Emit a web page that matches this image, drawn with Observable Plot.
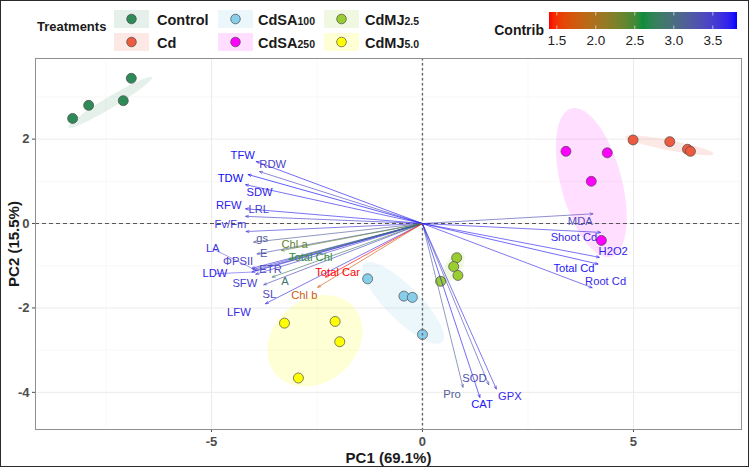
<!DOCTYPE html>
<html><head><meta charset="utf-8">
<script src="https://cdn.jsdelivr.net/npm/d3@7"></script>
<script src="https://cdn.jsdelivr.net/npm/@observablehq/plot@0.6"></script>
<style>
body{margin:0;background:#fff;font-family:"Liberation Sans",Arial,sans-serif;}
#wrap{position:relative;width:749px;height:467px;overflow:hidden;background:#fff;}
#legend,#chart{display:block;line-height:0;}
#frame{position:absolute;left:0;top:0;width:749px;height:467px;box-sizing:border-box;border:1.5px solid #2a2a2a;pointer-events:none;}
#chart g[aria-label^="x-axis"] text,#chart g[aria-label^="y-axis"] text{font-weight:bold;font-size:13px;fill:#4d4d4d;}
#chart g[aria-label^="x-axis"],#chart g[aria-label^="y-axis"]{color:#4d4d4d;}
</style></head><body>
<div id="wrap"><div id="legend"></div><div id="chart"></div><div id="frame"></div></div>
<script>
// ---- Treatments ----
const groups = ["Control","Cd","CdSA100","CdSA250","CdMJ2.5","CdMJ5.0"];
const groupMain = ["Control","Cd","CdSA","CdSA","CdMJ","CdMJ"];
const groupSub = ["","","100","250","2.5","5.0"];
const groupColors = ["#2e8b57","#ec5b3f","#87ceeb","#ff00ff","#9acd32","#ffff00"];

// ---- Individual scores (PC1, PC2) ----
const scoreGroup = ["Control","Control","Control","Control","Cd","Cd","Cd","Cd",
  "CdSA100","CdSA100","CdSA100","CdSA100","CdSA250","CdSA250","CdSA250","CdSA250",
  "CdMJ2.5","CdMJ2.5","CdMJ2.5","CdMJ2.5","CdMJ5.0","CdMJ5.0","CdMJ5.0","CdMJ5.0"];
const scorePC1 = [-8.29,-7.91,-7.09,-6.90, 4.99,5.86,6.28,6.35, -1.30,-0.44,-0.24,0.00, 3.40,4.38,4.00,4.24, 0.81,0.74,0.84,0.43, -3.27,-2.07,-1.96,-2.94];
const scorePC2 = [2.49,2.80,2.91,3.44, 1.98,1.94,1.76,1.71, -1.31,-1.72,-1.75,-2.63, 1.71,1.675,1.00,-0.40, -0.81,-1.02,-1.23,-1.37, -2.36,-2.32,-2.80,-3.66];

// ---- Group ellipses: centre, semi-axes, angle (deg) ----
const ellCX = [-7.40, 5.85, -0.46, 4.00, 0.74, -2.55];
const ellCY = [2.87, 1.855, -1.88, 0.97, -1.02, -2.78];
const ellA  = [1.15, 1.07, 1.31, 1.82, 0.40, 1.22];
const ellB  = [0.13, 0.12, 0.40, 0.72, 0.19, 0.98];
const ellAngle = [31, -11, -45, 105, 60, 40];

// ---- Variables ----
const varNames = ["TFW","RDW","TDW","SDW","RFW","LRL","Fv/Fm","gs","E","LA","ΦPSII","ETR","LDW","SFW","SL","LFW",
  "A","Chl a","Total Chl","Total Car","Chl b","MDA","Shoot Cd","H2O2","Total Cd","Root Cd","Pro","SOD","CAT","GPX"];
const varPC1 = [-3.94,-3.86,-4.13,-4.19,-4.19,-4.19,-4.18,-4.00,-3.92,-4.04,-4.02,-3.97,-4.04,-3.95,-3.76,-3.72,
  -3.56,-3.34,-3.17,-2.30,-2.48, 4.04,4.22,4.19,4.16,4.02, 0.96,1.57,1.36,1.75];
const varPC2 = [1.47,1.23,1.16,0.92,0.35,0.17,-0.19,-0.44,-0.72,-1.06,-1.09,-1.11,-1.15,-1.20,-1.45,-1.90,
  -1.27,-0.64,-0.85,-1.27,-1.51, 0.23,-0.21,-0.80,-0.96,-1.52, -3.88,-3.82,-4.12,-3.92];
const varContrib = [3.75,3.45,3.80,3.70,3.70,3.50,3.55,3.20,3.30,3.60,3.45,3.40,3.70,3.50,3.40,3.65,
  2.85,2.40,2.55,1.40,1.75, 3.35,3.65,3.70,3.75,3.65, 3.15,3.35,3.75,3.65];
const labelPC1 = [-4.26,-3.55,-4.55,-3.86,-4.59,-3.88,-4.55,-3.80,-3.76,-4.97,-4.37,-3.60,-4.92,-4.21,-3.63,-4.35,
  -3.26,-3.03,-2.65,-2.01,-2.80, 3.74,3.59,4.52,3.59,4.34, 0.70,1.23,1.41,2.07];
const labelPC2 = [1.62,1.40,1.08,0.74,0.43,0.33,-0.03,-0.35,-0.70,-0.60,-0.90,-1.09,-1.19,-1.41,-1.68,-2.10,
  -1.37,-0.50,-0.80,-1.15,-1.71, 0.05,-0.32,-0.66,-1.06,-1.37, -4.05,-3.67,-4.29,-4.10];
const repelSegment = ["LA","LDW"];

// ---- Axis ticks & colour bar ----
const xTicks = [-5,0,5];
const yTicks = [-4,-2,0,2];
const xMinor = [-7.5,-2.5,2.5,7.5];
const yMinor = [-3,-1,1,3];
const contribDomain = [1.4, 2.6, 3.81];
const contribColors = ["#ff0000","#078d3c","#0000ff"];
const contribTicks = [1.5,2.0,2.5,3.0,3.5];

const FONT = '"Liberation Sans", Arial, sans-serif';
const colorOpts = {type:"linear", domain: contribDomain, range: contribColors, interpolate:"lab"};
const cscale = Plot.scale({color: colorOpts});

const scores = scoreGroup.map((g,i)=>({group:g, x:scorePC1[i], y:scorePC2[i]}));
const vars = varNames.map((n,i)=>({name:n, x:varPC1[i], y:varPC2[i], c:varContrib[i], lx:labelPC1[i], ly:labelPC2[i]}));
function ellipsePts(k){
  const th = ellAngle[k]*Math.PI/180, pts=[];
  for(let j=0;j<120;j++){
    const t = j/120*2*Math.PI;
    pts.push({x: ellCX[k] + ellA[k]*Math.cos(t)*Math.cos(th) - ellB[k]*Math.sin(t)*Math.sin(th),
              y: ellCY[k] + ellA[k]*Math.cos(t)*Math.sin(th) + ellB[k]*Math.sin(t)*Math.cos(th)});
  }
  return pts;
}
const ellOpacity = [0.13,0.14,0.16,0.13,0.14,0.16];
const fmt = d => String(d);

const marks = [
  Plot.gridX(xMinor, {stroke:"#f3f3f3", strokeOpacity:1, strokeWidth:0.6}),
  Plot.gridY(yMinor, {stroke:"#f3f3f3", strokeOpacity:1, strokeWidth:0.6}),
  Plot.gridX(xTicks, {stroke:"#ebebeb", strokeOpacity:1, strokeWidth:1}),
  Plot.gridY(yTicks, {stroke:"#ebebeb", strokeOpacity:1, strokeWidth:1}),
  ...groups.map((g,k)=>Plot.line(ellipsePts(k), {x:"x", y:"y", curve:"linear-closed", fill:groupColors[k], fillOpacity:ellOpacity[k], stroke:"none"})),
  ...groups.map((g,k)=>Plot.dot(scores.filter(d=>d.group===g), {x:"x", y:"y", r:5, fill:groupColors[k], stroke:"#4a4a4a", strokeWidth:0.7})),
  Plot.ruleX([0], {stroke:"#666", strokeDasharray:"2.5,2.5", strokeWidth:1.4}),
  Plot.ruleY([0], {stroke:"#555", strokeDasharray:"4,3", strokeWidth:1}),
  Plot.link(vars.filter(d=>repelSegment.includes(d.name)), {x1:"lx", y1:"ly", x2:"x", y2:"y", stroke:"c", strokeWidth:0.6, strokeOpacity:0.8}),
  Plot.arrow(vars, {x1:()=>0, y1:()=>0, x2:"x", y2:"y", stroke:"c", strokeWidth:0.75, strokeOpacity:0.85, headLength:6, headAngle:45}),
  Plot.text(vars, {x:"lx", y:"ly", text:"name", fill:"c", fontSize:11.2, fontFamily:FONT}),
  Plot.frame({stroke:"#8f8f8f", strokeWidth:1}),
  Plot.text(["PC1 (69.1%)"], {frameAnchor:"bottom", dy:33, fontSize:15, fontWeight:"bold", fill:"#1a1a1a", fontFamily:FONT}),
  Plot.text(["PC2 (15.5%)"], {frameAnchor:"left", dx:-21, rotate:-90, textAnchor:"middle", fontSize:15, fontWeight:"bold", fill:"#1a1a1a", fontFamily:FONT})
];

const chart = Plot.plot({
  width:749, height:411,
  marginTop:2, marginBottom:38, marginLeft:35, marginRight:8,
  style:{fontFamily:FONT, background:"transparent", overflow:"visible"},
  x:{domain:[-9.17,7.56], ticks:xTicks, tickFormat:fmt, label:null, tickSize:3, tickPadding:4},
  y:{domain:[-4.88,3.91], ticks:yTicks, tickFormat:fmt, label:null, tickSize:3, tickPadding:3},
  color: colorOpts,
  marks
});
document.getElementById("chart").appendChild(chart);

// ---- Legend (above the plot) ----
const L = d3.select("#legend").append("svg").attr("width",749).attr("height",56).style("display","block").style("font-family",FONT);
L.append("text").attr("x",37).attr("y",26).attr("dy","0.35em").attr("font-size",13).attr("font-weight","bold").attr("fill","#1a1a1a").text("Treatments");
const keyX = [114,114,218,218,324,324], keyY=[10,33,10,33,10,33], labX=[157,157,258,258,365,365];
groups.forEach((g,k)=>{
  L.append("rect").attr("x",keyX[k]).attr("y",keyY[k]).attr("width",35).attr("height",18).attr("fill",groupColors[k]).attr("fill-opacity",ellOpacity[k]);
  L.append("circle").attr("cx",keyX[k]+17.5).attr("cy",keyY[k]+9).attr("r",4.8).attr("fill",groupColors[k]).attr("stroke","#4a4a4a").attr("stroke-width",0.7);
  const t = L.append("text").attr("x",labX[k]).attr("y",keyY[k]+9).attr("dy","0.35em").attr("font-weight","bold").attr("fill","#1a1a1a");
  t.append("tspan").attr("font-size",14.5).text(groupMain[k]);
  if(groupSub[k]) t.append("tspan").attr("font-size",10.5).text(groupSub[k]);
});
// colour bar
const cbX0=549, cbX1=737, cbY=12, cbH=17;
const grad = L.append("defs").append("linearGradient").attr("id","cb").attr("x1","0%").attr("x2","100%");
for(let i=0;i<=40;i++){ const v = contribDomain[0]+(contribDomain[2]-contribDomain[0])*i/40; grad.append("stop").attr("offset",(i/40*100)+"%").attr("stop-color",cscale.apply(v)); }
L.append("rect").attr("x",cbX0).attr("y",cbY).attr("width",cbX1-cbX0).attr("height",cbH).attr("fill","url(#cb)");
const cbPos = v => cbX0 + (v-contribDomain[0])/(contribDomain[2]-contribDomain[0])*(cbX1-cbX0);
contribTicks.forEach(v=>{
  const px = cbPos(v);
  L.append("line").attr("x1",px).attr("x2",px).attr("y1",cbY).attr("y2",cbY+3.5).attr("stroke","#fff").attr("stroke-opacity",0.6);
  L.append("line").attr("x1",px).attr("x2",px).attr("y1",cbY+cbH-3.5).attr("y2",cbY+cbH).attr("stroke","#fff").attr("stroke-opacity",0.6);
  L.append("text").attr("x",px).attr("y",40).attr("dy","0.35em").attr("text-anchor","middle").attr("font-size",13.5).attr("fill","#222").text(v.toFixed(1));
});
L.append("text").attr("x",544).attr("y",30).attr("dy","0.35em").attr("text-anchor","end").attr("font-size",14).attr("font-weight","bold").attr("fill","#1a1a1a").text("Contrib");
</script></body></html>
